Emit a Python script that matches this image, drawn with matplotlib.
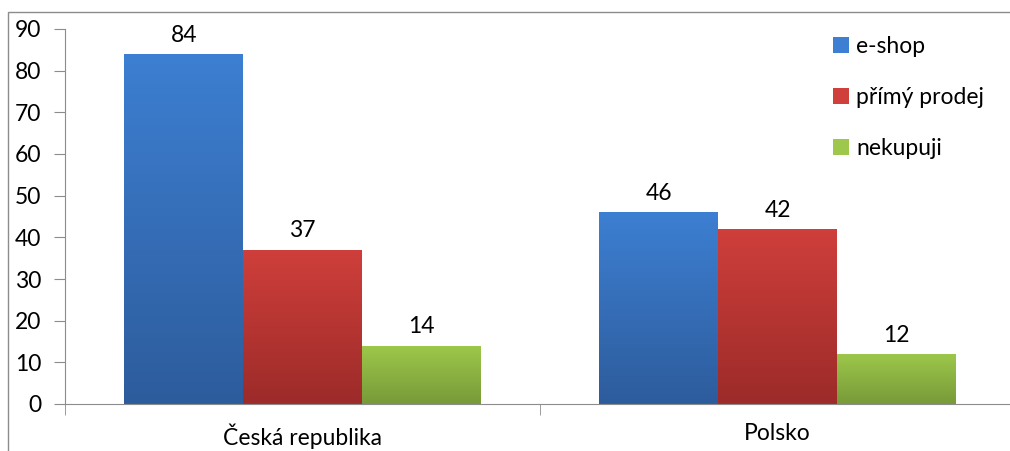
import numpy as np
import matplotlib.pyplot as plt
from matplotlib.colors import LinearSegmentedColormap
from matplotlib.patches import Rectangle, Patch

plt.rcParams['font.family'] = ['Lato', 'DejaVu Sans']

countries = ['Česká republika', 'Polsko']
series = ['e-shop', 'přímý prodej', 'nekupuji']
eshop = [84, 46]
primy = [37, 42]
nekupuji = [14, 12]
values = [eshop, primy, nekupuji]

# top / bottom shade of each gradient fill
shades = [('#3d7fd2', '#2d5c9c'),
          ('#cf3f3b', '#9c2b29'),
          ('#9dc84b', '#789a39')]

fs = 16.5

fig = plt.figure(figsize=(10.1, 4.51), dpi=100)
ax = fig.add_axes([65/1010, 47/451, 950/1010, 375/451])

# outer chart frame
fig.patches.append(Rectangle((8/1010, -0.1), 1.2, (451-12)/451 + 0.1,
                             transform=fig.transFigure, fill=False,
                             edgecolor='#8c8c8c', lw=1.0))

x = np.arange(len(countries))
w = 0.25
grad = np.linspace(1, 0, 256).reshape(-1, 1)

for i, (name, vals) in enumerate(zip(series, values)):
    pos = x + (i - 1) * w
    bars = ax.bar(pos, vals, width=w, color='none', edgecolor='none', zorder=2)
    cmap = LinearSegmentedColormap.from_list(name, [shades[i][1], shades[i][0]])
    for b, v in zip(bars, vals):
        bx, by = b.get_x(), b.get_y()
        im = ax.imshow(grad, cmap=cmap, aspect='auto', zorder=2,
                       extent=[bx, bx + b.get_width(), by, by + b.get_height()])
        im.set_clip_path(b)
        ax.text(b.get_x() + b.get_width() / 2, v + 2.0, str(v),
                ha='center', va='bottom', fontsize=fs, color='black')

ax.set_xlim(-0.5, len(countries) - 0.5)
ax.set_ylim(0, 90)
ax.set_yticks(range(0, 91, 10))
ax.set_xticks(x)
ax.set_xticklabels(countries, fontsize=fs)
ax.set_xticks(np.arange(-0.5, len(countries), 1), minor=True)
ax.tick_params(axis='x', which='major', length=0, pad=14)
ax.tick_params(axis='x', which='minor', length=8, color='#8c8c8c', direction='out')
ax.tick_params(axis='y', length=8, color='#8c8c8c', labelsize=fs, pad=9)

for s in ['top', 'right']:
    ax.spines[s].set_visible(False)
for s in ['left', 'bottom']:
    ax.spines[s].set_color('#8c8c8c')

handles = [Patch(facecolor=shades[i][0], edgecolor='none') for i in range(3)]
ax.legend(handles, series, loc='upper left', bbox_to_anchor=(0.787, 1.035),
          frameon=False, fontsize=fs, handlelength=0.7, handleheight=0.7,
          handletextpad=0.3, labelspacing=1.3)

fig.savefig('out.png', dpi=100)
